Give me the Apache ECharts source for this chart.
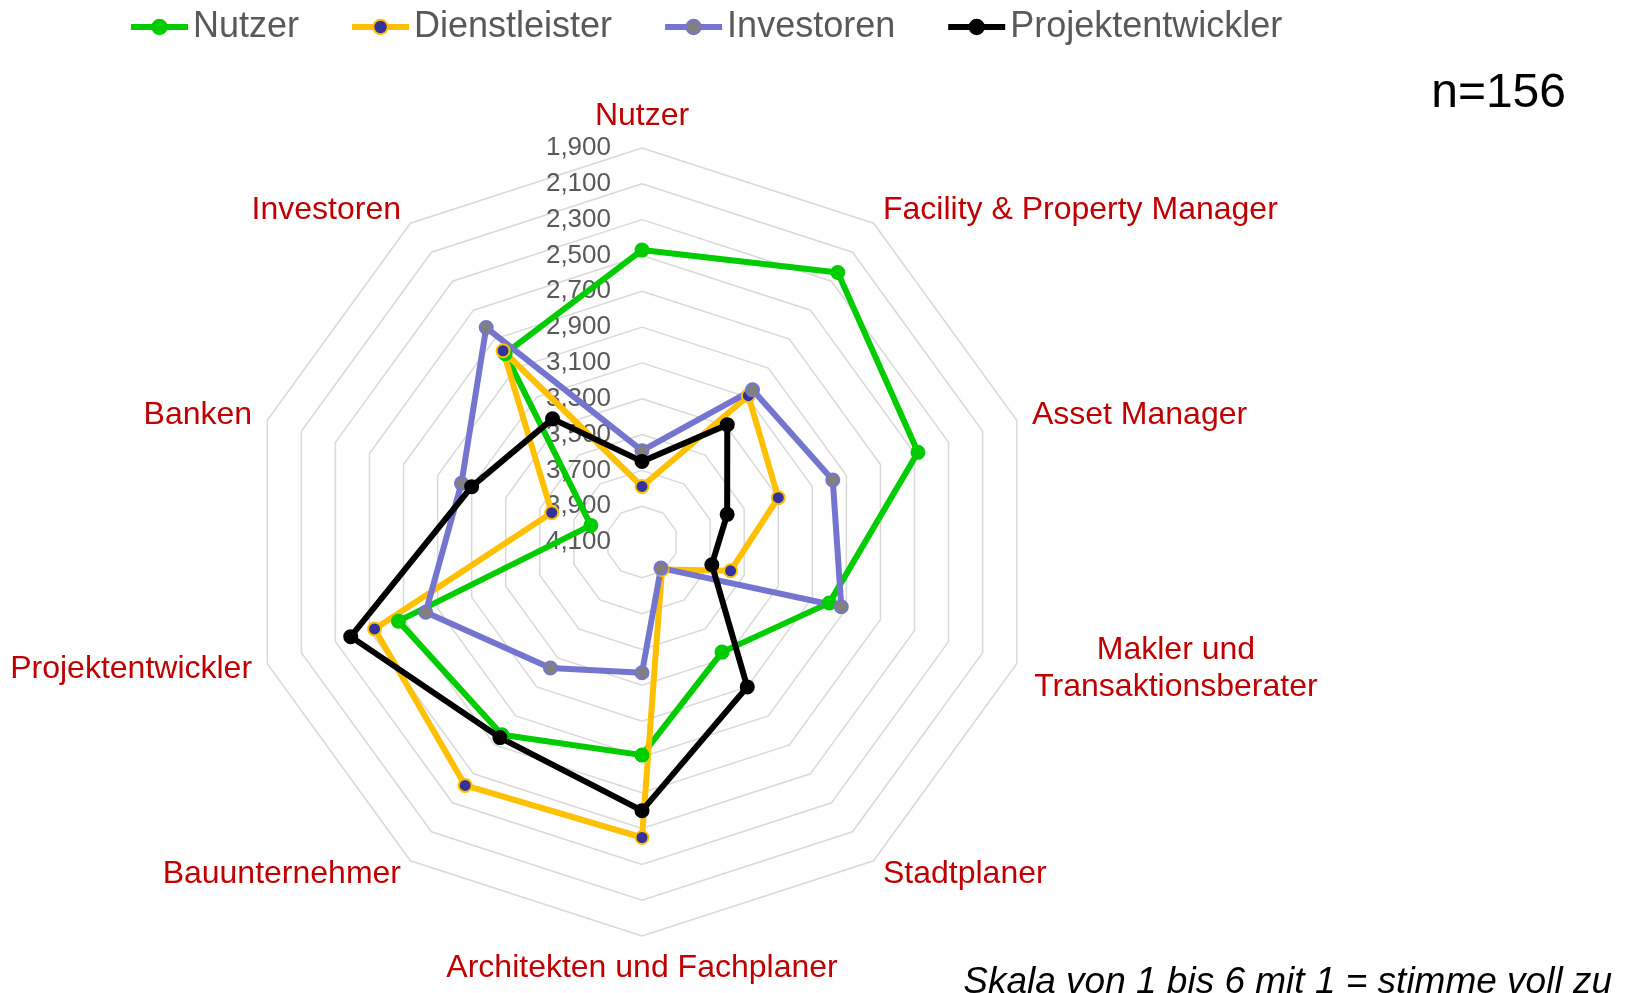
<!DOCTYPE html>
<html>
<head>
<meta charset="utf-8">
<title>Radar</title>
<script src="https://cdn.jsdelivr.net/npm/echarts@6/dist/echarts.min.js"></script>
<style>
  html, body { margin: 0; padding: 0; background: #fff; }
  #chart { width: 1626px; height: 993px; }
</style>
</head>
<body>
<div id="chart"></div>
<script>
// Achsen im Uhrzeigersinn, oben beginnend
var categories = [
  "Nutzer",
  "Facility & Property Manager",
  "Asset Manager",
  "Makler und\nTransaktionsberater",
  "Stadtplaner",
  "Architekten und Fachplaner",
  "Bauunternehmer",
  "Projektentwickler",
  "Banken",
  "Investoren"
];
var seriesNames = ["Nutzer", "Dienstleister", "Investoren", "Projektentwickler"];
var nutzer = [2.47, 2.24, 2.48, 3.00, 3.34, 2.91, 2.77, 2.67, 3.80, 2.80];
var dienstleister = [3.79, 3.09, 3.30, 3.58, 3.91, 2.45, 2.42, 2.53, 3.57, 2.78];
var investoren = [3.59, 3.05, 2.98, 2.93, 3.92, 3.37, 3.23, 2.83, 3.04, 2.62];
var projektentwickler = [3.65, 3.29, 3.60, 3.69, 3.10, 2.60, 2.75, 2.39, 3.10, 3.25];
var axisMin = 1.9;
var axisMax = 4.1;
var axisSteps = 11;

var FONT = "'Liberation Sans', Arial, sans-serif";
var chart = echarts.init(document.getElementById("chart"));

// echarts legt die Achsen gegen den Uhrzeigersinn an -> Reihenfolge umdrehen
var ecOrder = [0];
for (var k = categories.length - 1; k >= 1; k--) ecOrder.push(k);
function reorder(arr) {
  return ecOrder.map(function (i) { return arr[i]; });
}

var styles = [
  { line: "#00CC00", fill: "#00CC00", border: "#00CC00" },
  { line: "#FFC000", fill: "#333399", border: "#FFC000" },
  { line: "#7575D0", fill: "#808080", border: "#7575D0" },
  { line: "#000000", fill: "#000000", border: "#000000" }
];
var values = [nutzer, dienstleister, investoren, projektentwickler];

var series = [];
// leere Linienserien nur fuer die Legendensymbole (Linie + Punkt)
seriesNames.forEach(function (name, i) {
  series.push({
    type: "line",
    name: name,
    data: [],
    symbol: "circle",
    lineStyle: { color: styles[i].line, width: 6 },
    itemStyle: { color: styles[i].fill, borderColor: styles[i].border, borderWidth: 2 }
  });
});
seriesNames.forEach(function (name, i) {
  series.push({
    type: "radar",
    name: name,
    radarIndex: 0,
    symbol: "circle",
    symbolSize: 13,
    lineStyle: { color: styles[i].line, width: 6 },
    itemStyle: { color: styles[i].fill, borderColor: styles[i].border, borderWidth: 2 },
    data: [{ name: name, value: reorder(values[i]) }]
  });
});

var option = {
  backgroundColor: "#fff",
  animation: false,
  title: [
    {
      text: "n=156",
      right: 60,
      top: 70,
      padding: 0,
      textStyle: { fontSize: 48, fontWeight: "normal", color: "#000", fontFamily: FONT }
    },
    {
      text: "Skala von 1 bis 6 mit 1 = stimme voll zu",
      right: 14,
      top: 964,
      padding: 0,
      textStyle: { fontSize: 37, fontWeight: "normal", fontStyle: "italic", color: "#000", fontFamily: FONT }
    }
  ],
  legend: {
    data: seriesNames,
    left: 128,
    top: 9,
    padding: 0,
    itemWidth: 57,
    itemHeight: 18,
    itemGap: 50,
    lineStyle: { width: 6 },
    itemStyle: { borderWidth: 2 },
    textStyle: { fontSize: 36, color: "#595959", fontFamily: FONT }
  },
  grid: { show: false, left: 0, top: 0, width: 1, height: 1 },
  xAxis: { type: "category", show: false },
  yAxis: { type: "value", show: false },
  radar: [
    {
      // Skala umgedreht: 4,1 in der Mitte, 1,9 aussen
      center: [642, 542],
      radius: [394, 0],
      startAngle: 90,
      shape: "polygon",
      splitNumber: axisSteps,
      indicator: ecOrder.map(function (i, n) {
        return { name: categories[i], min: axisMin, max: axisMax, axisLabel: { show: n === 0 } };
      }),
      axisName: { show: false },
      axisLine: { show: false },
      axisTick: { show: false },
      axisLabel: {
        show: false,
        color: "#595959",
        fontSize: 26,
        fontFamily: FONT,
        margin: 31,
        formatter: function (v) { return Number(v).toFixed(3).replace(".", ","); }
      },
      splitLine: { lineStyle: { color: "#D9D9D9", width: 1.5 } },
      splitArea: { show: false }
    },
    {
      // nur fuer die Achsenbeschriftungen
      center: [642, 542],
      radius: 394,
      startAngle: 90,
      shape: "polygon",
      splitNumber: axisSteps,
      indicator: ecOrder.map(function (i) {
        return { name: categories[i], min: axisMin, max: axisMax };
      }),
      axisNameGap: 16,
      axisName: {
        color: "#C00000",
        fontSize: 32,
        fontFamily: FONT,
        formatter: function (name) {
          if (name.indexOf("\n") < 0) return name;
          return name.split("\n").map(function (l) { return "{c|" + l + "}"; }).join("\n");
        },
        rich: {
          c: { color: "#C00000", fontSize: 32, fontFamily: FONT, width: 288, align: "center", lineHeight: 37 }
        }
      },
      axisLine: { show: false },
      axisTick: { show: false },
      axisLabel: { show: false },
      splitLine: { show: false },
      splitArea: { show: false }
    }
  ],
  series: series
};

chart.setOption(option);
</script>
</body>
</html>
